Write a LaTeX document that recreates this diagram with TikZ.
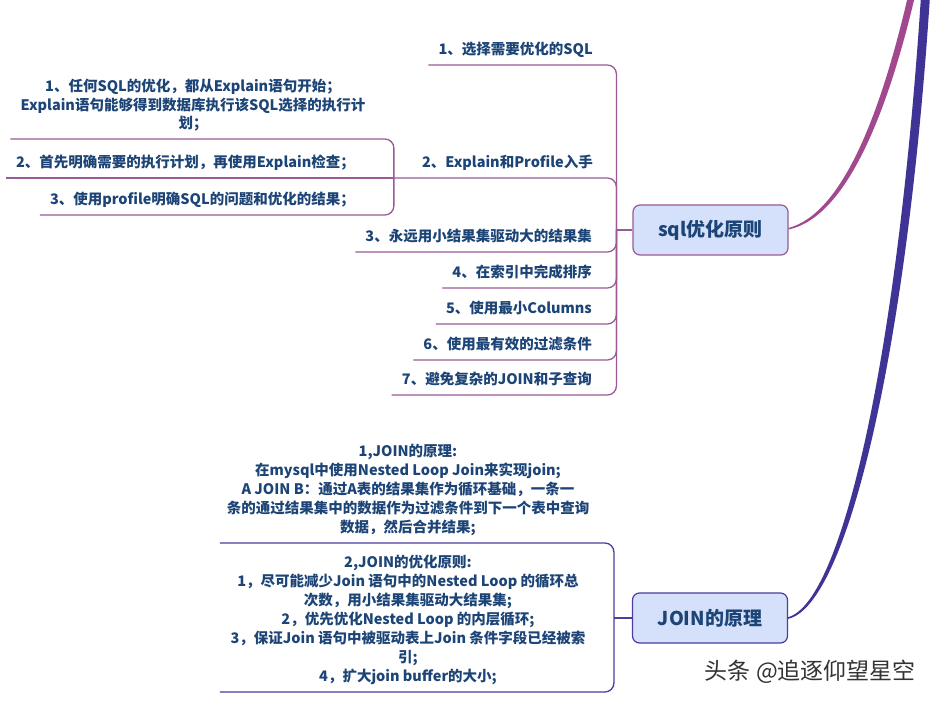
\documentclass[tikz,border=0pt]{standalone}
\usepackage{fontspec}
\setmainfont{Noto Sans CJK SC}
\usetikzlibrary{calc}
\definecolor{txt}{HTML}{1C4476}
\definecolor{sqlc}{HTML}{9B5A96}
\definecolor{joinc}{HTML}{4A3E9E}
\definecolor{boxfill}{HTML}{D5E0FB}
\definecolor{magc}{HTML}{A2488F}
\definecolor{bluec}{HTML}{3F3496}
\begin{document}
\begin{tikzpicture}[x=1pt,y=-1pt,
 lbl/.style={font=\bfseries\fontsize{14.5}{18.5}\selectfont, text=txt, inner xsep=10pt, inner ysep=6pt, text depth=4pt, align=center},
 one/.style={text height=11pt},
 jlbl/.style={font=\bfseries\fontsize{14.5}{19}\selectfont, text=txt, inner xsep=0pt, inner ysep=6pt, text depth=4pt, align=center, minimum width=376pt, anchor=south},
 sqline/.style={draw=sqlc, line width=1.3pt, rounded corners=9pt},
 jline/.style={draw=joinc, line width=1.3pt, rounded corners=9pt},
 central/.style={rounded corners=7pt, fill=boxfill, line width=1.2pt, minimum width=155pt, minimum height=50pt, font=\bfseries\fontsize{19}{22}\selectfont, text=txt}]
\useasboundingbox (0,0) rectangle (937,703);
\fill[white] (0,0) rectangle (937,703);

% central nodes
\node[central, draw=sqlc] (sq) at (710.5,230) {sql优化原则};
\node[central, draw=joinc] (jb) at (710,618) {JOIN的原理};
\coordinate (tr) at ($(sq.west)+(-16,0)$);
\coordinate (jt) at ($(jb.west)+(-18,0)$);

% tapered main curves
\fill[magc] ($(sq.east)+(0,-2)$) .. controls (844,213) and (882,108) .. (908,-4)
  -- (915,-4) .. controls (888,111) and (847,217) .. ($(sq.east)+(0,-0.5)$) -- cycle;
\fill[bluec] ($(jb.east)+(0,-0.8)$) .. controls (843,602) and (898,350) .. (921,-4)
  -- (930,-4) .. controls (907,352) and (847,606) .. ($(jb.east)+(0,0.8)$) -- cycle;

% sql branches
\node[lbl, one, anchor=south east] (b1) at (603,65) {1、选择需要优化的SQL};
\node[lbl, one, anchor=south east] (b2) at (603,178) {2、Explain和Profile入手};
\node[lbl, one, anchor=south east] (b3) at (602,252) {3、永远用小结果集驱动大的结果集};
\node[lbl, one, anchor=south east] (b4) at (602,288) {4、在索引中完成排序};
\node[lbl, one, anchor=south east] (b5) at (602,324) {5、使用最小Columns};
\node[lbl, one, anchor=south east] (b6) at (602,360) {6、使用最有效的过滤条件};
\node[lbl, one, anchor=south east] (b7) at (602,395) {7、避免复杂的JOIN和子查询};
\coordinate (sb) at ($(b2.south west)+(-18,0)$);

\foreach \b in {b1,b3,b4,b5,b6,b7}
  \draw[sqline] (\b.south west) -- (\b.south west -| tr) -- (tr);
\draw[sqline] (sb) -- (b2.south west -| tr) -- (tr);
\draw[draw=sqlc, line width=1.3pt] (tr) -- (sq.west);

% sub-branches of 2
\node[lbl, anchor=south] (s1) at (193,139) {1、任何SQL的优化，都从Explain语句开始；\\Explain语句能够得到数据库执行该SQL选择的执行计\\划；};
\node[lbl, one, anchor=south east] (s2) at (365,178) {2、首先明确需要的执行计划，再使用Explain检查；};
\node[lbl, one, anchor=south east] (s3) at (365,215) {3、使用profile明确SQL的问题和优化的结果；};
\draw[sqline] (s1.south west) -- (s1.south west -| sb) -- (sb);
\draw[sqline] (s3.south west) -- (s3.south west -| sb) -- (sb);
\draw[sqline] (s2.south west) -- (sb);

% JOIN branches
\node[jlbl] (j1) at (408,543) {1,JOIN的原理:\\在mysql中使用Nested Loop Join来实现join;\\A JOIN B：通过A表的结果集作为循环基础，一条一\\条的通过结果集中的数据作为过滤条件到下一个表中查询\\数据，然后合并结果;};
\node[jlbl] (j2) at (408,692) {2,JOIN的优化原则:\\1，尽可能减少Join 语句中的Nested Loop 的循环总\\次数，用小结果集驱动大结果集;\\2，优先优化Nested Loop 的内层循环;\\3，保证Join 语句中被驱动表上Join 条件字段已经被索\\引;\\4，扩大join buffer的大小;};
\draw[jline] (j1.south west) -- (j1.south west -| jt) -- (jt);
\draw[jline] (j2.south west) -- (j2.south west -| jt) -- (jt);
\draw[draw=joinc, line width=1.3pt] (jt) -- (jb.west);

% watermark
\node[font=\fontsize{23}{26}\selectfont, text=black!80, anchor=east, inner sep=0pt] (wm) at (916,672) {头条 @追逐仰望星空};
\end{tikzpicture}
\end{document}
